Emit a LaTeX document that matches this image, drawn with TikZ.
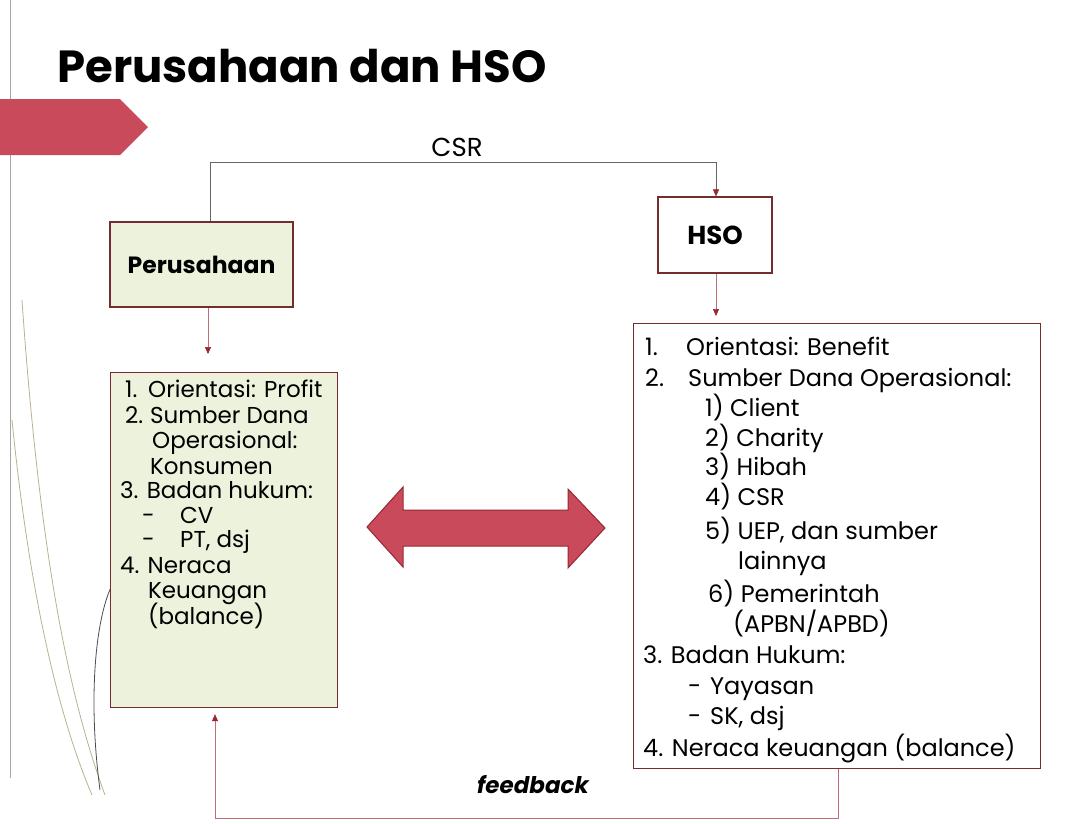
\documentclass[tikz,border=0pt]{standalone}
\usepackage{fontspec}
\setmainfont{Poppins}
\usetikzlibrary{arrows.meta}
\definecolor{redfill}{RGB}{201,74,90}
\definecolor{redline}{RGB}{150,40,50}
\definecolor{boxline}{RGB}{115,45,45}
\definecolor{greenfill}{RGB}{236,242,220}
\definecolor{conn}{RGB}{190,110,120}
\definecolor{tipc}{RGB}{150,40,50}
\definecolor{deco}{RGB}{185,178,140}
\begin{document}
\begin{tikzpicture}[x=1pt,y=-1pt,
  box/.style={draw=boxline, line width=1.2pt, inner sep=0pt},
  connector/.style={draw=conn, line width=0.6pt, -{Triangle[length=7pt,width=6pt,color=tipc,fill=tipc]}},
  ltxt/.style={anchor=base west, inner sep=0pt, font=\fontsize{23}{26}\selectfont},
  rtxt/.style={anchor=base west, inner sep=0pt, font=\fontsize{24}{28}\selectfont}]
\useasboundingbox (0,0) rectangle (1070,823);
% slide decorations
\draw[gray!70, line width=1pt] (10,0) -- (10,778);
\draw[deco, line width=0.8pt] (22,300) .. controls (40,560) and (70,700) .. (105,795);
\draw[deco, line width=0.8pt] (12,420) .. controls (30,600) and (60,720) .. (92,795);
\draw[black!70, line width=0.8pt] (112,585) .. controls (95,620) and (88,700) .. (100,790);
% title and tab
\node[anchor=base west, inner sep=0pt, font=\fontsize{45}{50}\selectfont\bfseries] (title) at (57,82) {Perusahaan dan HSO};
\fill[redfill] (0,99) -- (120,99) -- (148,127) -- (120,155) -- (0,155) -- cycle;
% boxes
\node[box, fill=greenfill, minimum width=183, minimum height=85, font=\fontsize{23.5}{26}\selectfont\bfseries] (per) at (201.5,264.5) {Perusahaan};
\node[box, fill=white, minimum width=114, minimum height=76, font=\fontsize{26}{28}\selectfont\bfseries] (hso) at (715,235) {HSO};
\node[box, fill=greenfill, minimum width=227, minimum height=335, anchor=north west] (lbox) at (110,372) {};
\node[box, fill=white, minimum width=407, minimum height=445, anchor=north west] (rbox) at (633,323) {};
% CSR connector
\node[font=\fontsize{26}{28}\selectfont, inner sep=0pt] (csr) at (457,147) {CSR};
\coordinate (c1) at (210,162);
\coordinate (c2) at (716,162);
\draw[connector, draw=black!60] (per.north -| c1) -- (c1) -- (c2) -- (hso.north -| c2);
% down connectors
\draw[connector] (per.south -| 208,0) -- ([yshift=18pt]lbox.north -| 208,0);
\draw[connector] (hso.south -| 716,0) -- ([yshift=7pt]rbox.north -| 716,0);
% feedback
\coordinate (f1) at (838,818);
\coordinate (f2) at (215,818);
\draw[connector] (rbox.south -| f1) -- (f1) -- (f2) -- ([yshift=-6pt]lbox.south -| f2);
\node[font=\fontsize{23}{26}\selectfont\bfseries\itshape, inner sep=0pt] (fb) at (533,785) {feedback};
% double arrow
\filldraw[fill=redfill, draw=redline, line width=1pt]
  (367,527) -- (403,487) -- (403,510) -- (568,510) -- (568,489) -- (605,528)
  -- (568,568) -- (568,546) -- (403,546) -- (403,567) -- cycle;
% left text
\node[ltxt] (l1) at (125,397) {\makebox[23pt][l]{1.}Orientasi: Profit};
\node[ltxt] (l2) at (125,423) {\makebox[25pt][l]{2.}Sumber Dana};
\node[ltxt] (l3) at (152,448) {Operasional:};
\node[ltxt] (l4) at (150,474) {Konsumen};
\node[ltxt] (l5) at (120,498) {3. Badan hukum:};
\node[ltxt] (l6) at (142,523) {\makebox[38pt][l]{-}CV};
\node[ltxt] (l7) at (142,547) {\makebox[38pt][l]{-}PT, dsj};
\node[ltxt] (l8) at (120,573) {4. Neraca};
\node[ltxt] (l9) at (148,598) {Keuangan};
\node[ltxt] (l10) at (148,624) {(balance)};
% right text
\node[rtxt] (r1) at (645,355) {\makebox[41pt][l]{1.}Orientasi: Benefit};
\node[rtxt] (r2) at (645,386) {\makebox[43pt][l]{2.}Sumber Dana Operasional:};
\node[rtxt] (r3) at (705,416) {1) Client};
\node[rtxt] (r4) at (705,446) {2) Charity};
\node[rtxt] (r5) at (705,475) {3) Hibah};
\node[rtxt] (r6) at (705,505) {4) CSR};
\node[rtxt] (r7) at (705,539) {5) UEP, dan sumber};
\node[rtxt] (r8) at (738,569) {lainnya};
\node[rtxt] (r9) at (708,602) {6) Pemerintah};
\node[rtxt] (r10) at (733,632) {(APBN/APBD)};
\node[rtxt] (r11) at (643,663) {3. Badan Hukum:};
\node[rtxt] (r12) at (688,694) {\makebox[22pt][l]{-}Yayasan};
\node[rtxt] (r13) at (688,724) {\makebox[22pt][l]{-}SK, dsj};
\node[rtxt] (r14) at (643,756) {4. Neraca keuangan (balance)};
\end{tikzpicture}
\end{document}
